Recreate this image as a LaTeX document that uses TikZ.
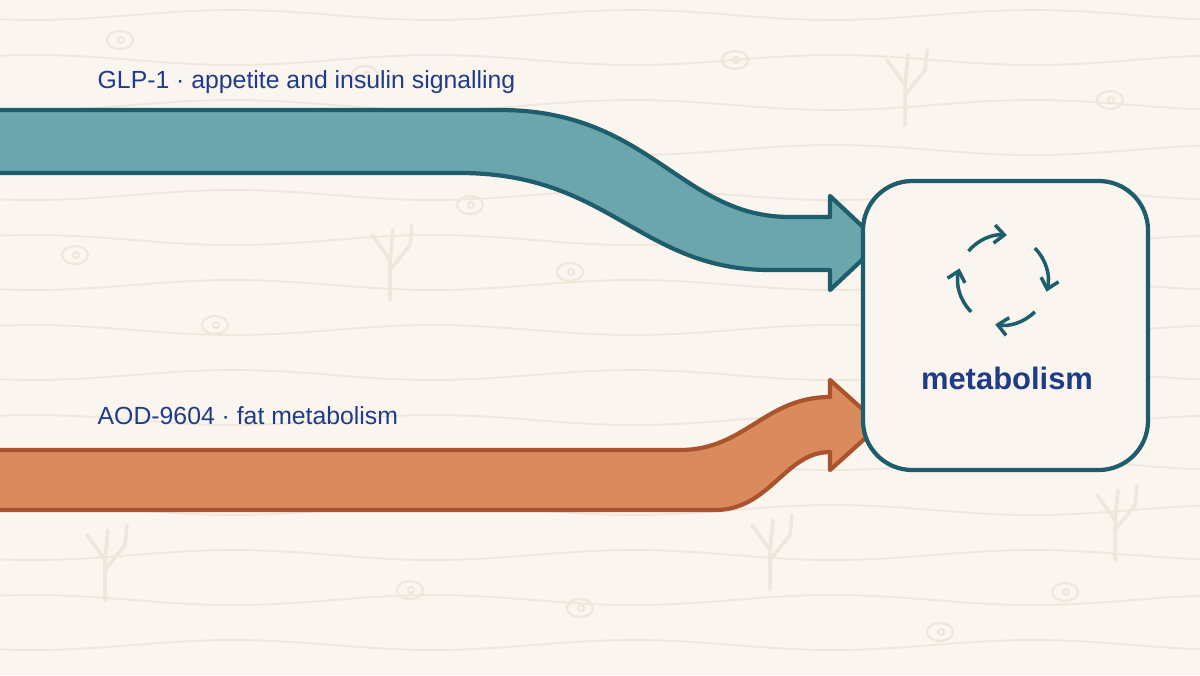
\documentclass[tikz,border=0pt]{standalone}
\usepackage{fontspec}
\setmainfont{Liberation Sans}
\usetikzlibrary{arrows.meta}
\definecolor{paper}{HTML}{FAF5EF}
\definecolor{texture}{HTML}{EFE6DC}
\definecolor{tealfill}{HTML}{6CA6AD}
\definecolor{tealline}{HTML}{1E5E6C}
\definecolor{orangefill}{HTML}{DA8B5E}
\definecolor{orangeline}{HTML}{A9542E}
\definecolor{labelblue}{HTML}{1F3C88}
\tikzset{
  wave/.style={texture, line width=0.5pt},
  cell/.style={texture, line width=0.6pt},
  branch/.style={texture, line width=1pt, line cap=round},
  flow/.style={line width=1.2pt, line join=round},
  cyc/.style={tealline, line width=1pt, -{Straight Barb[length=1mm,width=1.8mm]}},
  lbl/.style={labelblue, inner sep=0pt, font=\fontsize{7.05pt}{8.5pt}\selectfont, anchor=base west}
}
\newcommand{\cellat}[2]{%
  \draw[cell] (#1,#2) ellipse [x radius=13, y radius=9];
  \draw[cell] (#1+1,#2) circle [radius=3];}
\begin{document}
\begin{tikzpicture}[x=0.01cm,y=-0.01cm]
\useasboundingbox (0,0) rectangle (1200,675);
\fill[paper] (0,0) rectangle (1200,675);

%Hintergrund
\foreach \yy in {15,60,...,660}
  \draw[wave] plot[domain=0:1200, samples=50, smooth] (\x, {\yy+5*sin(\x*0.9+\yy*4)});
\foreach \cx/\cy in {365/75,735/60,570/272,75/255,215/325,1110/100,580/608,410/590,1065/592,940/632,470/205,120/40}
  {\cellat{\cx}{\cy}}
\foreach \bx/\by in {390/300,905/125,105/600,1115/560,770/590}{
  \draw[branch] (\bx,\by) -- (\bx,\by-40) -- (\bx-18,\by-65);
  \draw[branch] (\bx,\by-30) -- (\bx+20,\by-55) -- (\bx+22,\by-75);
  \draw[branch] (\bx,\by-40) -- (\bx+3,\by-70);
}

%GLP-1
\filldraw[flow, fill=tealfill, draw=tealline]
  (-5,110) -- (500,110) .. controls (650,110) and (680,217) .. (790,217)
  -- (830,217) -- (830,196) -- (880,243) -- (830,290) -- (830,270) -- (770,270)
  .. controls (640,270) and (610,173) .. (460,173) -- (-5,173) -- cycle;
\node[lbl] (glp) at (97,88) {GLP-1 · appetite and insulin signalling};

%AOD-9604
\filldraw[flow, fill=orangefill, draw=orangeline]
  (-5,450) -- (680,450) .. controls (745,450) and (765,397) .. (830,397)
  -- (830,380) -- (880,425) -- (830,470) -- (830,452)
  .. controls (785,452) and (770,510) .. (715,510) -- (-5,510) -- cycle;
\node[lbl] (aod) at (97,424) {AOD-9604 · fat metabolism};

%Ziel
\draw[tealline, fill=paper, line width=1.2pt, rounded corners=14pt]
  (863,181) rectangle (1148,470);
\node[labelblue, font=\fontsize{8.8pt}{10pt}\selectfont\bfseries] (meta) at (1007,378) {metabolism};
\begin{scope}[shift={(1003,280)}, x=1cm, y=1cm]
  \draw[cyc] (140:0.45) arc[start angle=140, end angle=85, radius=0.45];
  \draw[cyc] (45:0.45) arc[start angle=45, end angle=-15, radius=0.45];
  \draw[cyc] (-45:0.45) arc[start angle=-45, end angle=-100, radius=0.45];
  \draw[cyc] (-135:0.45) arc[start angle=-135, end angle=-195, radius=0.45];
\end{scope}
\end{tikzpicture}
\end{document}
